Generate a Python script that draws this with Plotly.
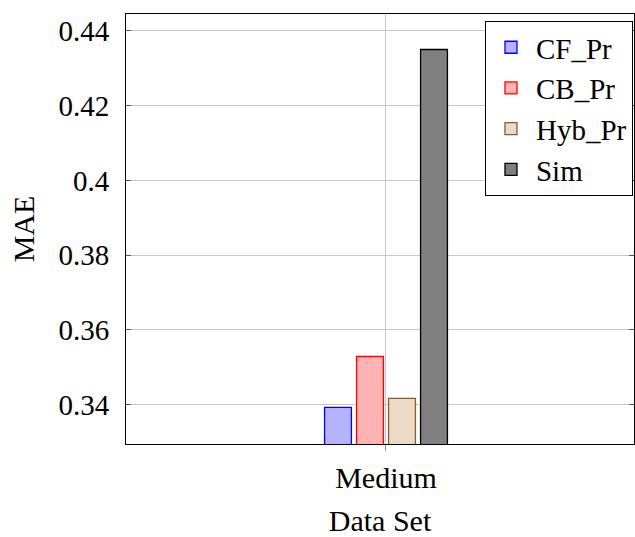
import plotly.graph_objects as go

categories = ["Medium"]
series_names = ["CF_Pr", "CB_Pr", "Hyb_Pr", "Sim"]
cf_pr = [0.3393]
cb_pr = [0.3529]
hyb_pr = [0.3417]
sim = [0.4350]
y_tick_vals = [0.34, 0.36, 0.38, 0.40, 0.42, 0.44]
y_tick_text = ["0.34", "0.36", "0.38", "0.4", "0.42", "0.44"]

fills = ["rgb(179,179,255)", "rgb(255,179,179)", "rgb(236,217,198)", "rgb(128,128,128)"]
borders = ["rgb(0,0,255)", "rgb(255,0,0)", "rgb(140,90,45)", "rgb(0,0,0)"]

FONT = "Liberation Serif"

fig = go.Figure()
for name, vals, fc, lc in zip(series_names, [cf_pr, cb_pr, hyb_pr, sim], fills, borders):
    fig.add_trace(go.Bar(
        x=categories, y=vals, name=name,
        marker=dict(color=fc, line=dict(color=lc, width=1.3)),
    ))

fig.update_layout(
    width=635, height=537,
    margin=dict(l=126, r=1, t=14, b=93),
    paper_bgcolor="white", plot_bgcolor="white",
    barmode="group", bargap=0.748, bargroupgap=0.16,
    font=dict(family=FONT, size=29, color="black"),
    showlegend=True,
    legend=dict(
        x=0.998, y=0.984, xanchor="right", yanchor="top",
        bgcolor="white", bordercolor="black", borderwidth=1,
        font=dict(family=FONT, size=29), tracegroupgap=0,
        itemwidth=40,
    ),
)
fig.update_xaxes(
    title=dict(text="Data Set", font=dict(family=FONT, size=30), standoff=16),
    tickfont=dict(family=FONT, size=30),
    range=[-0.5118, 0.4882],
    showline=True, linecolor="black", linewidth=1, mirror=True,
    showgrid=True, gridcolor="rgb(200,200,200)", gridwidth=1,
    ticks="outside", ticklen=6, tickcolor="rgb(150,150,150)",
    ticklabelstandoff=1,
)
fig.update_yaxes(
    title=dict(text="MAE", font=dict(family=FONT, size=30), standoff=14),
    tickfont=dict(family=FONT, size=29),
    range=[0.3295, 0.4445],
    tickvals=y_tick_vals, ticktext=y_tick_text,
    showline=True, linecolor="black", linewidth=1, mirror="ticks",
    showgrid=True, gridcolor="rgb(200,200,200)", gridwidth=1,
    ticks="inside", ticklen=5, tickcolor="rgb(90,90,90)",
    ticklabelstandoff=10, zeroline=False,
)

fig.write_html("out.html")
